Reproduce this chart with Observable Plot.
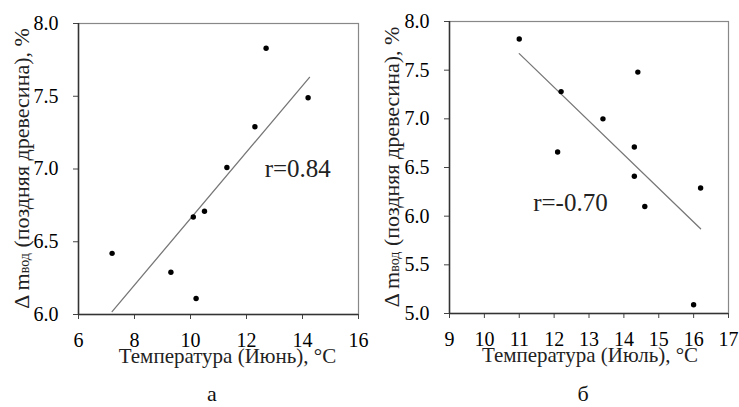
<!DOCTYPE html>
<html><head><meta charset="utf-8">
<script src="https://cdn.jsdelivr.net/npm/d3@7"></script>
<script src="https://cdn.jsdelivr.net/npm/@observablehq/plot@0.6"></script>
<style>
body{margin:0;background:#fff;font-family:"Liberation Serif",serif;}
#wrap{position:relative;width:739px;height:407px;overflow:hidden;}
.panel{position:absolute;top:0;}
.panel svg text{font-family:"Liberation Serif",serif !important;}
.cap{position:absolute;top:381px;font-size:22px;line-height:26px;color:#111;transform:translateX(-50%);}
</style></head><body>
<div id="wrap">
  <div class="panel" id="pa" style="left:0px"></div>
  <div class="panel" id="pb" style="left:370px"></div>
  <div class="cap" style="left:212px">а</div>
  <div class="cap" style="left:583px">б</div>
</div>
<script>
// Panel а (June)
const juneTemp = [7.2, 9.3, 10.2, 10.1, 10.5, 11.3, 12.3, 12.7, 14.2];
const juneDm   = [6.42, 6.29, 6.11, 6.67, 6.71, 7.01, 7.29, 7.83, 7.49];
const juneFitTemp = [7.2, 14.25];
const juneFitDm   = [6.02, 7.63];
const juneXTicks = [6, 8, 10, 12, 14, 16];
const juneYTicks = [6.0, 6.5, 7.0, 7.5, 8.0];
const juneR = "r=0.84";
const juneXLabel = "Температура (Июнь), °С";
// Panel б (July)
const julyTemp = [11.0, 12.2, 12.1, 13.4, 14.4, 14.3, 14.3, 14.6, 16.2, 16.0];
const julyDm   = [7.82, 7.28, 6.66, 7.00, 7.48, 6.71, 6.41, 6.10, 6.29, 5.09];
const julyFitTemp = [11.0, 16.2];
const julyFitDm   = [7.67, 5.87];
const julyXTicks = [9, 10, 11, 12, 13, 14, 15, 16, 17];
const julyYTicks = [5.0, 5.5, 6.0, 6.5, 7.0, 7.5, 8.0];
const julyR = "r=-0.70";
const julyXLabel = "Температура (Июль), °С";

const yLabelMain = "Δ m";
const yLabelSub = "вод";
const yLabelRest = " (поздняя древесина), %";

const SERIF = "Liberation Serif, serif";

function panel(opts){
  const pts = opts.xs.map((x,i)=>({x, y: opts.ys[i]}));
  const fit = opts.fx.map((x,i)=>({x, y: opts.fy[i]}));
  const svg = Plot.plot({
    width: opts.width, height: 375,
    marginLeft: opts.ml, marginRight: opts.mr, marginTop: opts.mt, marginBottom: opts.mb,
    style: {fontFamily: SERIF, fontSize: "20px"},
    x: {domain: opts.xd, label: null},
    y: {domain: opts.yd, label: null},
    marks: [
      Plot.frame({stroke: "#888", strokeWidth: 1.2}),
      Plot.axisX({ticks: opts.xt, tickSize: 5, tickPadding: 13, tickFormat: d3.format("d"), label: null, stroke: "#444", fontSize: 20, fontFamily: SERIF}),
      Plot.axisY({ticks: opts.yt, tickSize: 5, tickPadding: 15, tickFormat: d3.format(".1f"), label: null, stroke: "#444", fontSize: 20, fontFamily: SERIF}),
      Plot.ruleX([opts.xd[0]], {stroke: "#333", strokeWidth: 1.5}),
      Plot.ruleY([opts.yd[0]], {stroke: "#333", strokeWidth: 1.5}),
      Plot.line(fit, {x: "x", y: "y", stroke: "#777", strokeWidth: 1.3}),
      Plot.dot(pts, {x: "x", y: "y", r: 2.7, fill: "#000"}),
      Plot.text([opts.rText], {x: opts.rx, y: opts.ry, textAnchor: "start", fontSize: 25, fontFamily: SERIF, fill: "#222"}),
      Plot.text([opts.xLabel], {frameAnchor: "bottom", dy: 48, dx: opts.xldx, fontSize: 21, fontFamily: SERIF, fill: "#222"})
    ]
  });
  const s = d3.select(svg);
  const cy = opts.mt + (375 - opts.mt - opts.mb)/2;
  const t = s.append("text")
    .attr("transform", `translate(${opts.ylx},${cy}) rotate(-90)`)
    .attr("text-anchor", "middle")
    .attr("font-size", 22)
    .attr("fill", "#222");
  t.append("tspan").text(yLabelMain);
  t.append("tspan").attr("font-size", 14).text(yLabelSub);
  t.append("tspan").text(yLabelRest);
  s.selectAll("text").style("font-family", SERIF);
  document.getElementById(opts.id).appendChild(svg);
}

panel({id: "pa", width: 370, ml: 78, mr: 12, mt: 23, mb: 61,
  xs: juneTemp, ys: juneDm, fx: juneFitTemp, fy: juneFitDm,
  xd: [6, 16], yd: [6, 8], xt: juneXTicks, yt: juneYTicks,
  rText: juneR, rx: 12.65, ry: 7.0, xLabel: juneXLabel, xldx: 9, ylx: 29});

panel({id: "pb", width: 369, ml: 79, mr: 11, mt: 21, mb: 62,
  xs: julyTemp, ys: julyDm, fx: julyFitTemp, fy: julyFitDm,
  xd: [9, 17], yd: [5, 8], xt: julyXTicks, yt: julyYTicks,
  rText: julyR, rx: 11.4, ry: 6.14, xLabel: julyXLabel, xldx: 1, ylx: 29});
</script>
</body></html>
